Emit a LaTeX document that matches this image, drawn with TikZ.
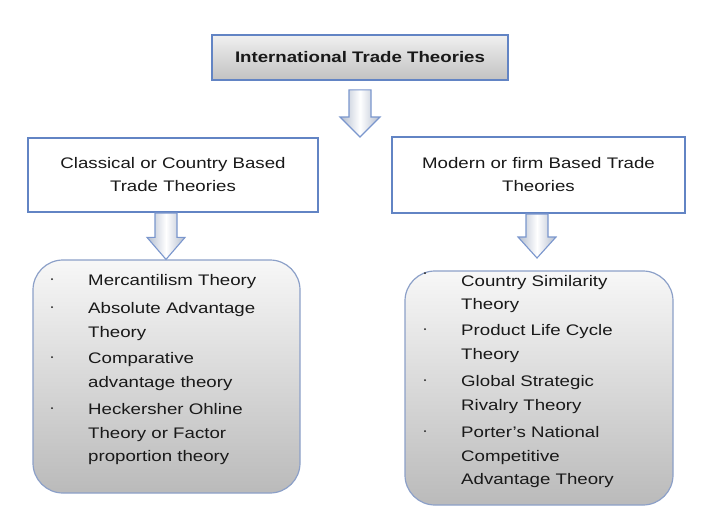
\documentclass[tikz,border=0pt]{standalone}
\usepackage{fontspec}
\setmainfont{Liberation Sans}[FakeStretch=1.22]
\usetikzlibrary{calc}
\definecolor{bordblue}{RGB}{98,132,196}
\definecolor{listbord}{RGB}{140,160,200}
\definecolor{txtgray}{RGB}{25,25,25}
\definecolor{arrowedge}{RGB}{178,188,206}
\newcommand{\blockarr}[5]{%
  \path[blockarrow] ($(#1)+(-#4,0)$) -- ($(#1)+(#4,0)$) -- ($(#2)+(#4,-#3)$) -- ($(#2)+(#5,-#3)$) -- (#2)
   -- ($(#2)+(-#5,-#3)$) -- ($(#2)+(-#4,-#3)$) -- cycle;}
\begin{document}
\begin{tikzpicture}[x=1pt,y=-1pt,
  every node/.style={font=\fontsize{15.3}{23}\selectfont, text=txtgray},
  topbox/.style={draw=bordblue, line width=1.6pt, top color=white!94!black, bottom color=white!76!black, minimum width=296pt, minimum height=45pt, inner sep=0pt},
  headbox/.style={draw=bordblue, line width=1.6pt, fill=white, align=center, inner sep=0pt},
  listbox/.style={draw=listbord, line width=1.2pt, rounded corners=30pt, top color=white!97!black, bottom color=white!73!black, inner sep=0pt},
  blockarrow/.style={draw=bordblue!85, line width=1.1pt, left color=arrowedge, right color=arrowedge, middle color=white, line join=miter},
  itemline/.style={anchor=base west, inner sep=0pt},
  bul/.style={circle, fill=txtgray, inner sep=0pt, minimum size=2pt}]
\useasboundingbox (0,0) rectangle (720,528);

% boxes
\node[topbox] (top) at (360,57.5) {\textbf{International Trade Theories}};
\node[headbox, minimum width=290pt, minimum height=74pt] (lh) at (173,175) {Classical or Country Based\\Trade Theories};
\node[headbox, minimum width=293pt, minimum height=76pt] (rh) at (538.5,175) {Modern or firm Based Trade\\Theories};
\node[listbox, minimum width=267pt, minimum height=233pt] (lb) at (166.5,376.5) {};
\node[listbox, minimum width=268pt, minimum height=234pt] (rb) at (539,388) {};

% arrows
\coordinate (a1s) at ($(top.south)+(0,9)$);
\coordinate (a1e) at (360,137);
\blockarr{a1s}{a1e}{20}{11}{20}
\coordinate (a2s) at (166,213);
\coordinate (a2e) at ($(lb.north)+(-0.5,0)$);
\blockarr{a2s}{a2e}{22}{11}{19}
\coordinate (a3s) at (537,214);
\coordinate (a3e) at (537,258);
\blockarr{a3s}{a3e}{21}{11}{19}

% left list
\node[bul] (lb1) at (52,279) {};
\node[bul] (lb2) at (52,307) {};
\node[bul] (lb3) at (52,357) {};
\node[bul] (lb4) at (52,408) {};
\node[itemline] (l1) at (88,285) {Mercantilism Theory};
\node[itemline] (l2) at (88,313) {Absolute Advantage};
\node[itemline] (l3) at (88,337) {Theory};
\node[itemline] (l4) at (88,363) {Comparative};
\node[itemline] (l5) at (88,387) {advantage theory};
\node[itemline] (l6) at (88,414) {Heckersher Ohline};
\node[itemline] (l7) at (88,438) {Theory or Factor};
\node[itemline] (l8) at (88,461) {proportion theory};

% right list
\node[bul] (rb1) at (425,273) {};
\node[bul] (rb2) at (425,329) {};
\node[bul] (rb3) at (425,380) {};
\node[bul] (rb4) at (425,431) {};
\node[itemline] (r1) at (461,286) {Country Similarity};
\node[itemline] (r2) at (461,309) {Theory};
\node[itemline] (r3) at (461,335) {Product Life Cycle};
\node[itemline] (r4) at (461,359) {Theory};
\node[itemline] (r5) at (461,386) {Global Strategic};
\node[itemline] (r6) at (461,410) {Rivalry Theory};
\node[itemline] (r7) at (461,437) {Porter’s National};
\node[itemline] (r8) at (461,461) {Competitive};
\node[itemline] (r9) at (461,484) {Advantage Theory};
\end{tikzpicture}
\end{document}
